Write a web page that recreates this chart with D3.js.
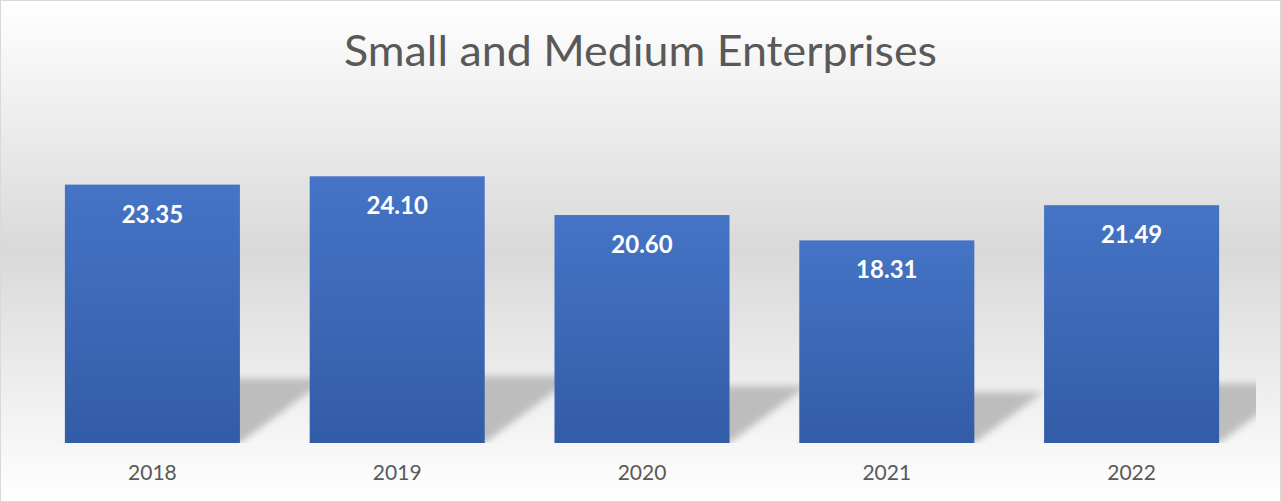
<!DOCTYPE html>
<html>
<head>
<meta charset="utf-8">
<script src="https://cdn.jsdelivr.net/npm/d3@7"></script>
<style>
  html, body { margin: 0; padding: 0; background: #fff; }
  svg { display: block; }
</style>
</head>
<body>
<svg id="chart" width="1281" height="502"></svg>
<script>
// --------------------------
// DATA
// --------------------------
const title = "Small and Medium Enterprises";
const years = ["2018", "2019", "2020", "2021", "2022"];
const values = [23.35, 24.10, 20.60, 18.31, 21.49];

const svg = d3.select("#chart");
const width = +svg.attr("width");
const height = +svg.attr("height");
const margin = { top: 111, right: 27, bottom: 59, left: 30 };

const x = d3.scaleBand()
    .domain(years)
    .range([margin.left, width - margin.right])
    .paddingInner(0.285)
    .paddingOuter(0.1425);

const y = d3.scaleLinear()
    .domain([0, 30])
    .range([height - margin.bottom, margin.top]);

const defs = svg.append("defs");

// chart background gradient
const bg = defs.append("linearGradient")
    .attr("id", "bg").attr("x1", 0).attr("y1", 0).attr("x2", 0).attr("y2", 1);
bg.append("stop").attr("offset", "0%").attr("stop-color", "#ffffff");
bg.append("stop").attr("offset", "50%").attr("stop-color", "#d9d9d9");
bg.append("stop").attr("offset", "100%").attr("stop-color", "#ffffff");

// bar gradient
const barGrad = defs.append("linearGradient")
    .attr("id", "barGrad").attr("x1", 0).attr("y1", 0).attr("x2", 0).attr("y2", 1);
barGrad.append("stop").attr("offset", "0%").attr("stop-color", "#4574c6");
barGrad.append("stop").attr("offset", "100%").attr("stop-color", "#335ca6");

defs.append("filter").attr("id", "blur")
    .attr("x", "-20%").attr("y", "-50%").attr("width", "140%").attr("height", "200%")
    .append("feGaussianBlur").attr("stdDeviation", 3.5);

defs.append("clipPath").attr("id", "plotClip")
    .append("rect")
    .attr("x", margin.left).attr("y", 0)
    .attr("width", width - margin.right - margin.left + 2)
    .attr("height", height - margin.bottom);

svg.append("rect")
    .attr("x", 0.5).attr("y", 0.5)
    .attr("width", width - 1).attr("height", height - 1)
    .attr("fill", "url(#bg)")
    .attr("stroke", "#d9d9d9");

// Title
svg.append("text")
    .attr("x", width / 2)
    .attr("y", 66)
    .attr("text-anchor", "middle")
    .attr("font-family", "Lato, 'Open Sans', sans-serif")
    .attr("font-size", 42)
    .attr("fill", "#595959")
    .attr("textLength", 593)
    .attr("lengthAdjust", "spacingAndGlyphs")
    .text(title);

// Perspective shadows
const base = y(0);
svg.append("g")
    .attr("clip-path", "url(#plotClip)")
    .append("g")
    .attr("filter", "url(#blur)")
    .selectAll("path")
    .data(years)
    .enter()
    .append("path")
    .attr("d", (d, i) => {
        const x0 = x(d), x1 = x(d) + x.bandwidth();
        const sh = (base - y(values[i])) * 0.25;
        const dx = sh * 1.35;
        return `M${x0},${base} L${x1},${base} L${x1 + dx},${base - sh} L${x0 + dx},${base - sh} Z`;
    })
    .attr("fill", "#bdbdbd");

// Bars
svg.append("g")
    .selectAll("rect")
    .data(years)
    .enter()
    .append("rect")
    .attr("x", d => x(d))
    .attr("y", (d, i) => y(values[i]))
    .attr("width", x.bandwidth())
    .attr("height", (d, i) => base - y(values[i]))
    .attr("fill", "url(#barGrad)");

// Value labels
svg.append("g")
    .selectAll("text")
    .data(years)
    .enter()
    .append("text")
    .attr("x", d => x(d) + x.bandwidth() / 2)
    .attr("y", (d, i) => y(values[i]) + 38)
    .attr("text-anchor", "middle")
    .attr("font-family", "Lato, 'Open Sans', sans-serif")
    .attr("font-weight", "bold")
    .attr("font-size", 24)
    .attr("fill", "#ffffff")
    .text((d, i) => values[i].toFixed(2));

// Category axis
const axis = svg.append("g")
    .attr("transform", `translate(0,${base})`)
    .call(d3.axisBottom(x).tickSize(0).tickPadding(0));
axis.select(".domain").remove();
axis.selectAll("text")
    .attr("y", 37)
    .attr("dy", 0)
    .attr("font-family", "Lato, 'Open Sans', sans-serif")
    .attr("font-size", 21)
    .attr("fill", "#595959");
</script>
</body>
</html>
